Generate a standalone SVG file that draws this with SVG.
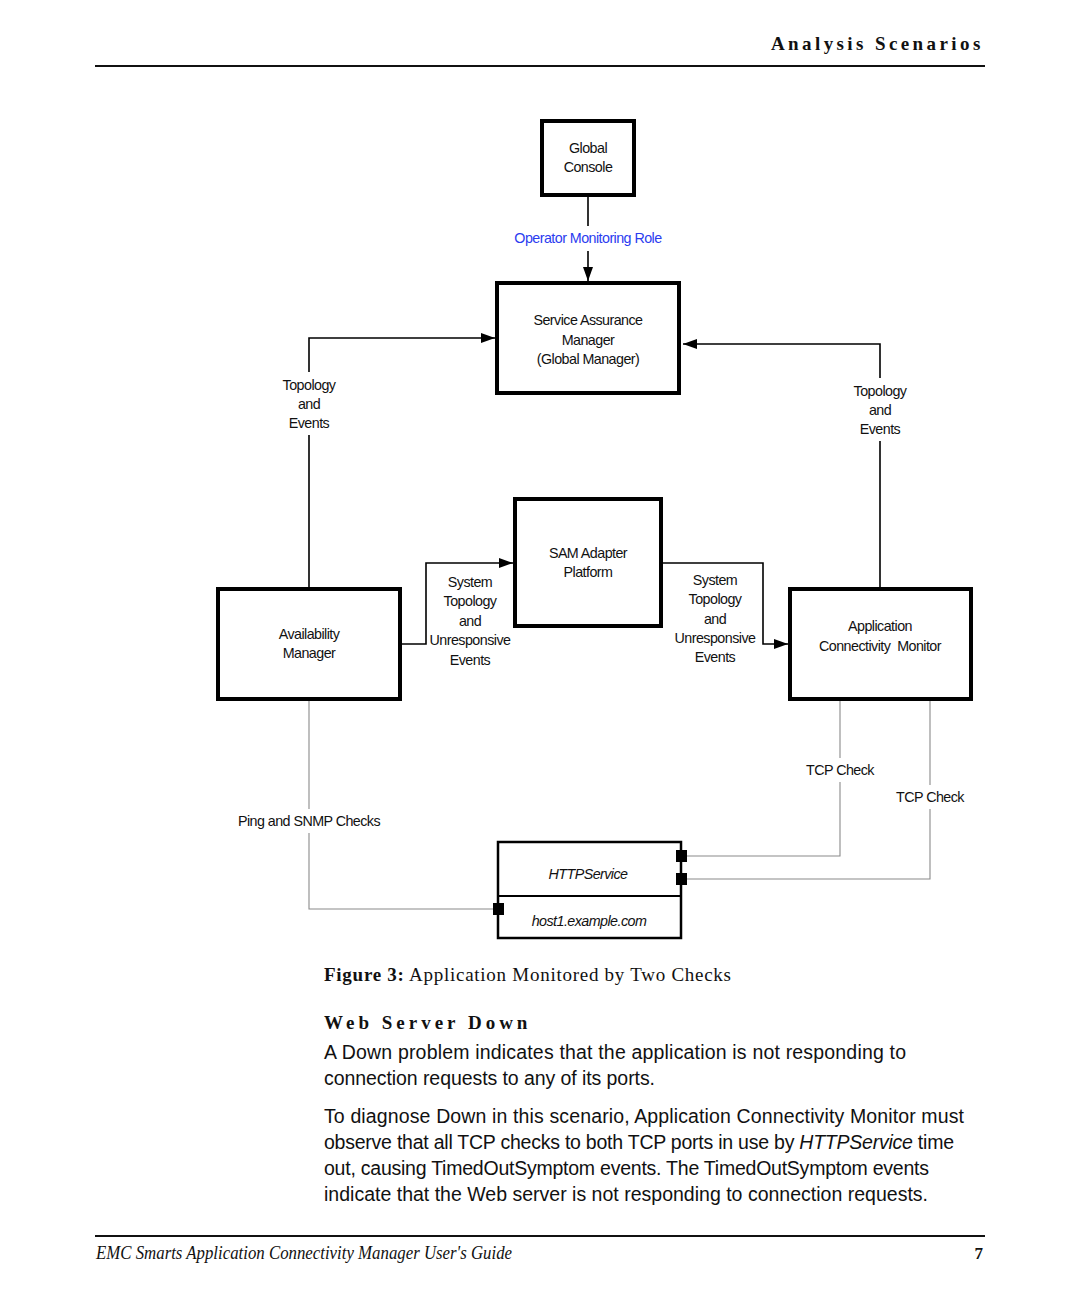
<svg xmlns="http://www.w3.org/2000/svg" width="1080" height="1296" viewBox="0 0 1080 1296">
<defs>
<style>
.box{fill:#fff;stroke:#000;stroke-width:4}
.lbl{font-family:"Liberation Sans",Arial,sans-serif;font-size:14.3px;letter-spacing:-0.55px;text-anchor:middle;fill:#111}
.blue{fill:#2b3cf0}
.it{font-style:italic}
.con{fill:none;stroke:#000;stroke-width:1.6}
.grey{fill:none;stroke:#8a8a8a;stroke-width:1.1}
.port{fill:#000}
.body{font-family:"Liberation Sans",Arial,sans-serif;font-size:19.5px;fill:#111}
.serif{font-family:"Liberation Serif","Times New Roman",serif;fill:#111}
</style>
<marker id="arr" markerWidth="14" markerHeight="10" refX="14" refY="5" orient="auto" markerUnits="userSpaceOnUse">
<path d="M0,0 L14,5 L0,10 Z" fill="#000"/>
</marker>
</defs>
<rect width="1080" height="1296" fill="#fff"/>

<!-- header -->
<text x="771" y="50" class="serif" font-size="19" font-weight="bold" letter-spacing="3.4">Analysis Scenarios</text>
<line x1="95" y1="66" x2="985" y2="66" stroke="#111" stroke-width="2.2"/>

<!-- connectors -->
<g id="connectors">
<path class="con" d="M588,195 V226 M588,251 V281" marker-end="url(#arr)"/>
<path class="con" d="M309,589 V435 M309,372 V338 H495" marker-end="url(#arr)"/>
<path class="con" d="M880,589 V441 M880,378 V344 H683" marker-end="url(#arr)"/>
<path class="con" d="M400,644 H426 V563 H513" marker-end="url(#arr)"/>
<path class="con" d="M661,563 H763 V644 H788" marker-end="url(#arr)"/>
<path class="grey" d="M309,699 V809 M309,833 V909 H493"/>
<path class="grey" d="M840,699 V758 M840,782 V856 H686"/>
<path class="grey" d="M930,699 V785 M930,809 V879 H686"/>
<text class="lbl blue" x="588" y="243">Operator Monitoring Role</text>
<text class="lbl" x="309" y="390">Topology</text>
<text class="lbl" x="309" y="409">and</text>
<text class="lbl" x="309" y="428">Events</text>
<text class="lbl" x="880" y="396">Topology</text>
<text class="lbl" x="880" y="415">and</text>
<text class="lbl" x="880" y="434">Events</text>
<text class="lbl" x="470" y="587">System</text>
<text class="lbl" x="470" y="606">Topology</text>
<text class="lbl" x="470" y="626">and</text>
<text class="lbl" x="470" y="645">Unresponsive</text>
<text class="lbl" x="470" y="665">Events</text>
<text class="lbl" x="715" y="585">System</text>
<text class="lbl" x="715" y="604">Topology</text>
<text class="lbl" x="715" y="624">and</text>
<text class="lbl" x="715" y="643">Unresponsive</text>
<text class="lbl" x="715" y="662">Events</text>
<text class="lbl" x="309" y="826">Ping and SNMP Checks</text>
<text class="lbl" x="840" y="775">TCP Check</text>
<text class="lbl" x="930" y="802">TCP Check</text>
</g>

<g id="global-console">
<rect class="box" x="542" y="121" width="92" height="74"/>
<text class="lbl" x="588" y="153">Global</text>
<text class="lbl" x="588" y="172">Console</text>
</g>

<g id="sam">
<rect class="box" x="497" y="283" width="182" height="110"/>
<text class="lbl" x="588" y="325">Service Assurance</text>
<text class="lbl" x="588" y="345">Manager</text>
<text class="lbl" x="588" y="364">(Global Manager)</text>
</g>

<g id="sam-adapter-platform">
<rect class="box" x="515" y="499" width="146" height="127"/>
<text class="lbl" x="588" y="558">SAM Adapter</text>
<text class="lbl" x="588" y="577">Platform</text>
</g>

<g id="availability-manager">
<rect class="box" x="218" y="589" width="182" height="110"/>
<text class="lbl" x="309" y="639">Availability</text>
<text class="lbl" x="309" y="658">Manager</text>
</g>

<g id="acm">
<rect class="box" x="790" y="589" width="181" height="110"/>
<text class="lbl" x="880" y="631">Application</text>
<text class="lbl" x="880" y="651">Connectivity&#160; Monitor</text>
</g>

<g id="httpservice">
<rect x="498" y="842" width="183" height="96" fill="#fff" stroke="#000" stroke-width="2.5"/>
<line x1="498" y1="896" x2="681" y2="896" stroke="#000" stroke-width="2"/>
<text class="lbl it" x="588" y="879">HTTPService</text>
<text class="lbl it" x="589" y="926">host1.example.com</text>
<rect class="port" x="676" y="850" width="11" height="12"/>
<rect class="port" x="676" y="873" width="11" height="12"/>
<rect class="port" x="493" y="903" width="11" height="12"/>
</g>

<!-- caption and body -->
<text x="324" y="981" class="serif" font-size="19" textLength="407" lengthAdjust="spacing"><tspan font-weight="bold">Figure 3:</tspan> Application Monitored by Two Checks</text>
<text x="324" y="1029" class="serif" font-size="19" font-weight="bold" letter-spacing="4.0">Web Server Down</text>
<text x="324" y="1059" class="body" textLength="582" lengthAdjust="spacing">A Down problem indicates that the application is not responding to</text>
<text x="324" y="1085" class="body" textLength="331" lengthAdjust="spacing">connection requests to any of its ports.</text>
<text x="324" y="1123" class="body" textLength="640" lengthAdjust="spacing">To diagnose Down in this scenario, Application Connectivity Monitor must</text>
<text x="324" y="1149" class="body" textLength="630" lengthAdjust="spacing">observe that all TCP checks to both TCP ports in use by <tspan font-style="italic">HTTPService</tspan> time</text>
<text x="324" y="1175" class="body" textLength="605" lengthAdjust="spacing">out, causing TimedOutSymptom events. The TimedOutSymptom events</text>
<text x="324" y="1201" class="body" textLength="604" lengthAdjust="spacing">indicate that the Web server is not responding to connection requests.</text>

<!-- footer -->
<line x1="95" y1="1236" x2="985" y2="1236" stroke="#111" stroke-width="2"/>
<text x="96" y="1259" class="serif" font-size="18" font-style="italic" textLength="416" lengthAdjust="spacingAndGlyphs">EMC Smarts Application Connectivity Manager User's Guide</text>
<text x="983" y="1259" class="serif" font-size="17" font-weight="bold" text-anchor="end">7</text>
</svg>
